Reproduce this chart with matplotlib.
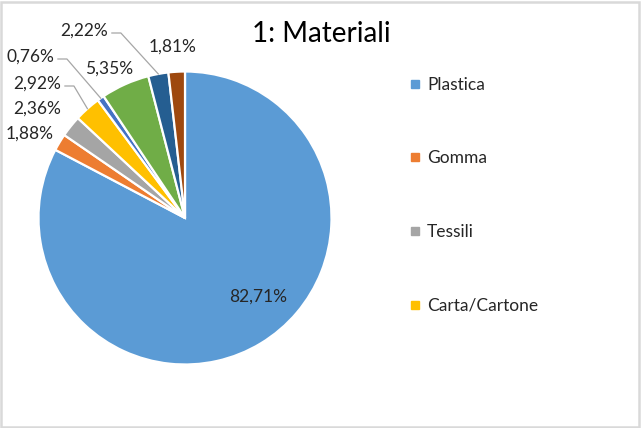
import numpy as np
import matplotlib
matplotlib.use('Agg')
import matplotlib.pyplot as plt
from matplotlib.lines import Line2D
from matplotlib.patches import Rectangle

plt.rcParams['font.family'] = ['Lato', 'DejaVu Sans']

## data
materials = ['Plastica', 'Gomma', 'Tessili', 'Carta/Cartone',
             'Metallo', 'Vetro', 'Legno', 'Altro']
shares = [82.71, 1.88, 2.36, 2.92, 0.76, 5.35, 2.22, 1.81]
colors = ['#5B9BD5', '#ED7D31', '#A5A5A5', '#FFC000',
          '#4472C4', '#70AD47', '#255E91', '#9E480E']
shown_in_legend = 4
##

# layout in pixels (y measured from top of the picture)
W, H = 641, 428
cx, cy, r = 185, 218, 146.5
label_pos = [(258, 297), (30, 134), (37, 109), (37, 84),
             (30, 57), (109, 69), (84, 31), (173, 47)]
leader = {3, 4, 6}

fig = plt.figure(figsize=(W / 100, H / 100), dpi=100)
ax = fig.add_axes([0, 0, 1, 1])

wedges, _ = ax.pie(shares, colors=colors, startangle=90, counterclock=False,
                   radius=r, center=(cx, H - cy),
                   wedgeprops=dict(edgecolor='white', linewidth=1.6))
ax.set_xlim(0, W)
ax.set_ylim(0, H)
ax.set_aspect('equal')
ax.axis('off')

fig.canvas.draw()
for i, (w, val) in enumerate(zip(wedges, shares)):
    txt = f'{val:.2f}'.replace('.', ',') + '%'
    px, py = label_pos[i]
    t = ax.text(px, H - py, txt, ha='center', va='center',
                fontsize=12.5, color='#262626')
    if i in leader:
        ang = np.deg2rad((w.theta1 + w.theta2) / 2)
        ex, ey = cx + r * np.cos(ang), H - cy + r * np.sin(ang)
        bb = t.get_window_extent(renderer=fig.canvas.get_renderer())
        x0 = bb.x1 + 4
        ax.plot([x0, x0 + 9, ex], [H - py - 2, H - py - 2, ey],
                color='#A6A6A6', lw=0.9)

ax.text(321, H - 34, '1: Materiali', ha='center', va='center',
        fontsize=20, color='#000000')

handles = [Line2D([], [], marker='s', ls='', markersize=6,
                  markerfacecolor=c, markeredgecolor=c)
           for c in colors[:shown_in_legend]]
fig.legend(handles, materials[:shown_in_legend], loc='upper left',
           bbox_to_anchor=(401 / W, 1 - 68 / H), frameon=False,
           fontsize=12.5, labelspacing=3.32, handlelength=0.6,
           handletextpad=0.4, borderpad=0, labelcolor='#262626')

fig.patches.append(Rectangle((1 / W, 1 / H), 1 - 3 / W, 1 - 3 / H,
                             transform=fig.transFigure, fill=False,
                             edgecolor='#D9D9D9', lw=1.8))

fig.savefig('out.png', dpi=100)
